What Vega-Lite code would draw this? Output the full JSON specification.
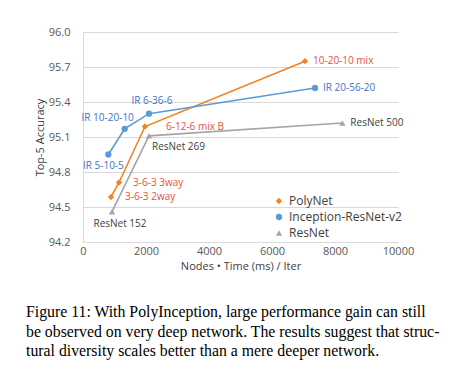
{
  "$schema": "https://vega.github.io/schema/vega-lite/v6.json",
  "width": 315,
  "height": 210,
  "autosize": "none",
  "padding": {"left": 83, "top": 32, "right": 62, "bottom": 136},
  "background": "white",
  "config": {"view": {"stroke": null}, "font": "Open Sans"},
  "title": {
    "text": [
      "Figure 11:  With PolyInception, large performance gain can still",
      "be observed on very deep network. The results suggest that struc-",
      "tural diversity scales better than a mere deeper network."
    ],
    "orient": "bottom",
    "anchor": "start",
    "frame": "group",
    "font": "Liberation Serif",
    "fontSize": 15.8,
    "fontWeight": "normal",
    "lineHeight": 19.5,
    "color": "#000000",
    "dx": -57,
    "offset": 34
  },
  "data": {
    "values": [
      {"series": "PolyNet", "x": 889, "y": 94.586, "label": "3-6-3 2way"},
      {"series": "PolyNet", "x": 1143, "y": 94.71, "label": "3-6-3 3way"},
      {"series": "PolyNet", "x": 1968, "y": 95.19, "label": "6-12-6 mix B"},
      {"series": "PolyNet", "x": 7048, "y": 95.75, "label": "10-20-10 mix"},
      {"series": "Inception-ResNet-v2", "x": 805, "y": 94.95, "label": "IR 5-10-5"},
      {"series": "Inception-ResNet-v2", "x": 1323, "y": 95.17, "label": "IR 10-20-10"},
      {"series": "Inception-ResNet-v2", "x": 2095, "y": 95.3, "label": "IR 6-36-6"},
      {"series": "Inception-ResNet-v2", "x": 7365, "y": 95.52, "label": "IR 20-56-20"},
      {"series": "ResNet", "x": 921, "y": 94.46, "label": "ResNet 152"},
      {"series": "ResNet", "x": 2095, "y": 95.11, "label": "ResNet 269"},
      {"series": "ResNet", "x": 8233, "y": 95.22, "label": "ResNet 500"}
    ]
  },
  "encoding": {
    "x": {
      "field": "x", "type": "quantitative",
      "scale": {"domain": [0, 10000], "nice": false},
      "axis": {
        "values": [0, 2000, 4000, 6000, 8000, 10000],
        "format": "d",
        "title": "Nodes • Time (ms) / Iter",
        "grid": false, "domain": false, "ticks": false,
        "labelFontSize": 11, "labelColor": "#595959", "labelPadding": 3,
        "labelFlush": false,
        "titleFontSize": 11, "titleFontWeight": "normal", "titleColor": "#404040", "titlePadding": 4
      }
    },
    "y": {
      "field": "y", "type": "quantitative",
      "scale": {"domain": [94.2, 96.0], "nice": false, "zero": false},
      "axis": {
        "values": [94.2, 94.5, 94.8, 95.1, 95.4, 95.7, 96.0],
        "format": ".1f",
        "title": "Top-5 Accuracy",
        "grid": true, "gridColor": "#d9d9d9", "gridWidth": 1,
        "domain": true, "domainColor": "#d9d9d9", "ticks": false,
        "labelFontSize": 11, "labelColor": "#595959", "labelPadding": 13,
        "titleFontSize": 11, "titleFontWeight": "normal", "titleColor": "#404040", "titlePadding": 3
      }
    }
  },
  "layer": [
    {
      "mark": {"type": "line", "strokeWidth": 1.6},
      "encoding": {
        "color": {
          "field": "series", "type": "nominal",
          "scale": {"domain": ["PolyNet", "Inception-ResNet-v2", "ResNet"], "range": ["#F58220", "#5B9BD5", "#A5A5A5"]},
          "legend": null
        },
        "detail": {"field": "series"}
      }
    },
    {
      "mark": {"type": "point", "filled": true, "opacity": 1, "size": 40},
      "encoding": {
        "color": {
          "field": "series", "type": "nominal",
          "scale": {"domain": ["PolyNet", "Inception-ResNet-v2", "ResNet"], "range": ["#F58220", "#5B9BD5", "#A5A5A5"]},
          "legend": {
            "title": null, "orient": "none", "legendX": 190, "legendY": 163,
            "labelFontSize": 12, "labelColor": "#404040", "rowPadding": 4,
            "symbolSize": 40, "symbolStrokeWidth": 0, "labelOffset": 4
          }
        },
        "shape": {
          "field": "series", "type": "nominal",
          "scale": {"domain": ["PolyNet", "Inception-ResNet-v2", "ResNet"], "range": ["diamond", "circle", "triangle-up"]},
          "legend": {
            "title": null, "orient": "none", "legendX": 190, "legendY": 163,
            "labelFontSize": 12, "labelColor": "#404040", "rowPadding": 4,
            "symbolSize": 40, "symbolStrokeWidth": 0, "labelOffset": 4
          }
        }
      }
    },
    {
      "transform": [{"filter": {"field": "label", "oneOf": ["10-20-10 mix", "IR 20-56-20", "ResNet 500"]}}],
      "mark": {"type": "text", "align": "left", "baseline": "middle", "dx": 8, "fontSize": 10},
      "encoding": {"text": {"field": "label"}, "color": {"field": "series", "type": "nominal", "scale": {"domain": ["PolyNet", "Inception-ResNet-v2", "ResNet"], "range": ["#E5533C", "#4472C4", "#404040"]}, "legend": null}}
    },
    {
      "transform": [{"filter": {"field": "label", "oneOf": ["3-6-3 3way", "3-6-3 2way"]}}],
      "mark": {"type": "text", "align": "left", "baseline": "middle", "dx": 14, "fontSize": 10},
      "encoding": {"text": {"field": "label"}, "color": {"field": "series", "type": "nominal", "scale": {"domain": ["PolyNet", "Inception-ResNet-v2", "ResNet"], "range": ["#E5533C", "#4472C4", "#404040"]}, "legend": null}}
    },
    {
      "transform": [{"filter": {"field": "label", "equal": "6-12-6 mix B"}}],
      "mark": {"type": "text", "align": "left", "baseline": "middle", "dx": 21, "fontSize": 10},
      "encoding": {"text": {"field": "label"}, "color": {"field": "series", "type": "nominal", "scale": {"domain": ["PolyNet", "Inception-ResNet-v2", "ResNet"], "range": ["#E5533C", "#4472C4", "#404040"]}, "legend": null}}
    },
    {
      "transform": [{"filter": {"field": "label", "equal": "ResNet 269"}}],
      "mark": {"type": "text", "align": "left", "baseline": "middle", "dx": 3, "dy": 11, "fontSize": 10},
      "encoding": {"text": {"field": "label"}, "color": {"field": "series", "type": "nominal", "scale": {"domain": ["PolyNet", "Inception-ResNet-v2", "ResNet"], "range": ["#E5533C", "#4472C4", "#404040"]}, "legend": null}}
    },
    {
      "transform": [{"filter": {"field": "label", "equal": "IR 6-36-6"}}],
      "mark": {"type": "text", "align": "center", "baseline": "middle", "dx": 3, "dy": -13, "fontSize": 10},
      "encoding": {"text": {"field": "label"}, "color": {"field": "series", "type": "nominal", "scale": {"domain": ["PolyNet", "Inception-ResNet-v2", "ResNet"], "range": ["#E5533C", "#4472C4", "#404040"]}, "legend": null}}
    },
    {
      "transform": [{"filter": {"field": "label", "equal": "IR 10-20-10"}}],
      "mark": {"type": "text", "align": "center", "baseline": "middle", "dx": -17, "dy": -11, "fontSize": 10},
      "encoding": {"text": {"field": "label"}, "color": {"field": "series", "type": "nominal", "scale": {"domain": ["PolyNet", "Inception-ResNet-v2", "ResNet"], "range": ["#E5533C", "#4472C4", "#404040"]}, "legend": null}}
    },
    {
      "transform": [{"filter": {"field": "label", "equal": "IR 5-10-5"}}],
      "mark": {"type": "text", "align": "center", "baseline": "middle", "dx": -5, "dy": 11, "fontSize": 10},
      "encoding": {"text": {"field": "label"}, "color": {"field": "series", "type": "nominal", "scale": {"domain": ["PolyNet", "Inception-ResNet-v2", "ResNet"], "range": ["#E5533C", "#4472C4", "#404040"]}, "legend": null}}
    },
    {
      "transform": [{"filter": {"field": "label", "equal": "ResNet 152"}}],
      "mark": {"type": "text", "align": "center", "baseline": "middle", "dx": 8, "dy": 12, "fontSize": 10},
      "encoding": {"text": {"field": "label"}, "color": {"field": "series", "type": "nominal", "scale": {"domain": ["PolyNet", "Inception-ResNet-v2", "ResNet"], "range": ["#E5533C", "#4472C4", "#404040"]}, "legend": null}}
    }
  ],
  "resolve": {"scale": {"color": "independent", "shape": "independent"}}
}
